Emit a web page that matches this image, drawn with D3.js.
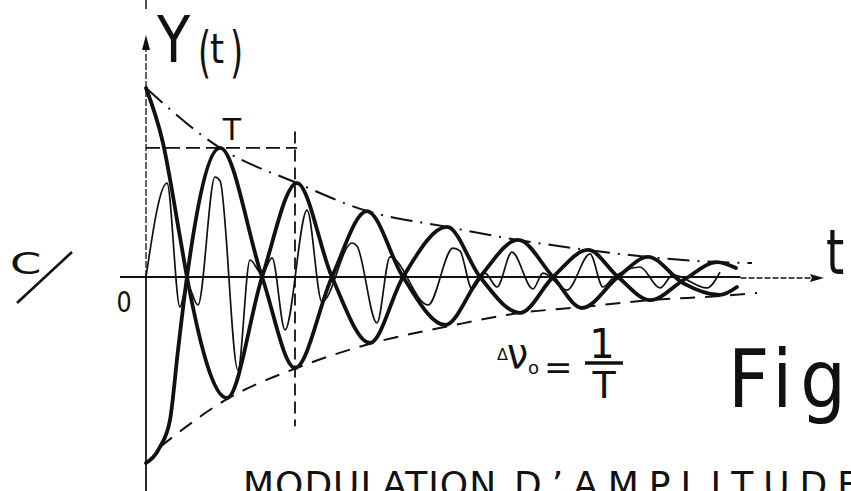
<!DOCTYPE html>
<html>
<head>
<meta charset="utf-8">
<script src="https://d3js.org/d3.v7.min.js"></script>
<style>
  html, body { margin: 0; padding: 0; background: #fff; }
  svg { display: block; }
  text { font-family: "DejaVu Sans", sans-serif; fill: #111; }
</style>
</head>
<body>
<div id="chart"></div>
<script>
// Time in units of the period T, amplitude relative to the initial value.
// Thick curve starting at the top of the envelope.
const thickUpper = [
  [0, 1.00], [0.114, 0.709], [0.228, 0.212], [0.275, 0], [0.544, -0.640],
  [0.779, 0], [1.013, 0.497], [1.248, 0], [1.503, -0.349], [1.725, 0],
  [2.020, 0.265], [2.242, 0], [2.510, -0.190], [2.732, 0], [2.966, 0.143],
  [3.168, 0], [3.383, -0.122], [3.617, -0.011], [3.832, 0.079], [3.960, 0.048]
];
// Thick curve starting at the bottom of the envelope.
const thickLower = [
  [0, -0.984], [0.094, -0.899], [0.161, -0.757], [0.215, -0.386], [0.275, 0],
  [0.497, 0.683], [0.779, 0], [1.0, -0.481], [1.248, 0], [1.483, 0.349],
  [1.725, 0], [2.007, -0.254], [2.242, 0], [2.497, 0.196], [2.732, 0],
  [2.926, -0.164], [3.168, 0], [3.369, 0.106], [3.604, -0.032],
  [3.852, -0.095], [3.966, -0.053]
];
// Thin modulated carrier oscillating between the two thick curves.
const carrier = [
  [0, 0], [0.141, 0.497], [0.228, -0.159], [0.275, -0.037], [0.349, -0.148],
  [0.463, 0.529], [0.497, 0.508], [0.617, -0.492], [0.698, 0.090],
  [0.779, 0.016], [0.846, 0.101], [0.933, -0.280], [1.081, 0.354],
  [1.181, -0.132], [1.383, 0.180], [1.416, 0.164], [1.550, -0.243],
  [1.638, 0.106], [1.893, -0.148], [2.060, 0.153], [2.107, 0.138],
  [2.188, -0.063], [2.275, 0.021], [2.356, -0.053], [2.456, 0.132],
  [2.597, -0.063], [2.664, 0.021], [2.826, -0.069], [2.980, 0.122],
  [3.067, -0.053], [3.134, -0.005], [3.315, 0.053], [3.450, -0.058],
  [3.537, 0.011], [3.765, -0.058], [3.852, 0.026]
];
// Decaying envelopes.
const envelopeTop = [
  [0, 1.0], [0.497, 0.683], [1.013, 0.497], [1.483, 0.349], [2.020, 0.265],
  [2.497, 0.196], [2.966, 0.143], [3.369, 0.106], [3.832, 0.079], [4.067, 0.074]
];
const envelopeBottom = [
  [0.094, -0.899], [0.544, -0.646], [1.013, -0.481], [1.523, -0.349],
  [2.040, -0.259], [2.510, -0.190], [2.926, -0.159], [3.383, -0.122],
  [3.852, -0.101], [4.101, -0.085]
];
// Period marker: from t = 0 to t = T at the level of the first crest.
const periodT = 1;
const periodLevel = 0.683;
const periodVertical = [0.77, -0.79];
// Axis extents.
const tAxis = [-0.174, 4.55];
const yAxis = [-1.14, 1.28];

const W = 851, H = 491;
const svg = d3.select("#chart").append("svg")
  .attr("width", W).attr("height", H)
  .attr("viewBox", `0 0 ${W} ${H}`);

const x = d3.scaleLinear().domain([0, 1]).range([146, 295]);
const y = d3.scaleLinear().domain([-1, 1]).range([466, 88]);

const ink = "#111";
const line = d3.line().x(d => x(d[0])).y(d => y(d[1])).curve(d3.curveMonotoneX);

// Axes
const g = svg.append("g");
// horizontal axis
g.append("line")
  .attr("x1", x(tAxis[0])).attr("x2", x(3.99))
  .attr("y1", y(0)).attr("y2", y(0))
  .attr("stroke", ink).attr("stroke-width", 1.8);
g.append("line")
  .attr("x1", x(3.99)).attr("x2", x(tAxis[1]) - 8)
  .attr("y1", y(0) + 1).attr("y2", y(0) + 1)
  .attr("stroke", ink).attr("stroke-width", 1.4).attr("stroke-dasharray", "6 2");
g.append("path")
  .attr("d", `M${x(tAxis[1])},${y(0) + 1} l-14,-4 l2,4 l-2,4 z`)
  .attr("fill", ink);
// vertical axis
g.append("line")
  .attr("x1", x(0)).attr("x2", x(0))
  .attr("y1", y(yAxis[0])).attr("y2", y(0))
  .attr("stroke", ink).attr("stroke-width", 1.8);
g.append("line")
  .attr("x1", x(0)).attr("x2", x(0))
  .attr("y1", y(0)).attr("y2", y(yAxis[1]) + 12)
  .attr("stroke", ink).attr("stroke-width", 1.3).attr("stroke-dasharray", "7 2");
g.append("path")
  .attr("d", `M${x(0)},${y(yAxis[1])} l-4,15 l8,0 z`)
  .attr("fill", ink);
g.append("line")
  .attr("x1", x(0)).attr("x2", x(0)).attr("y1", 0).attr("y2", 9)
  .attr("stroke", ink).attr("stroke-width", 1.5);

// Period marker lines
g.append("line")
  .attr("x1", x(0)).attr("x2", x(periodT) + 2)
  .attr("y1", y(periodLevel)).attr("y2", y(periodLevel))
  .attr("stroke", ink).attr("stroke-width", 1.8).attr("stroke-dasharray", "14 6");
g.append("line")
  .attr("x1", x(periodT)).attr("x2", x(periodT))
  .attr("y1", y(periodVertical[0])).attr("y2", y(periodVertical[1]))
  .attr("stroke", ink).attr("stroke-width", 1.8).attr("stroke-dasharray", "12 6");

// Envelopes
svg.append("path").datum(envelopeTop)
  .attr("d", line).attr("fill", "none").attr("stroke", ink)
  .attr("stroke-width", 2).attr("stroke-dasharray", "22 8 2 8");
svg.append("path").datum(envelopeBottom)
  .attr("d", line).attr("fill", "none").attr("stroke", ink)
  .attr("stroke-width", 2).attr("stroke-dasharray", "15 10");

// Carrier and modulating curves
svg.append("path").datum(carrier)
  .attr("d", line).attr("fill", "none").attr("stroke", ink)
  .attr("stroke-width", 1.7).attr("stroke-linejoin", "round");
[thickUpper, thickLower].forEach(s => {
  svg.append("path").datum(s)
    .attr("d", line).attr("fill", "none").attr("stroke", ink)
    .attr("stroke-width", 3.8).attr("stroke-linecap", "round")
    .attr("stroke-linejoin", "round");
});

// Labels
const txt = (s, tx, ty, size, opts = {}) => {
  const t = svg.append("text").text(s)
    .attr("transform", `translate(${tx},${ty}) scale(${opts.sx || 1},1)`)
    .attr("font-size", size)
    .attr("text-anchor", opts.anchor || "start");
  if (opts.ls) t.attr("letter-spacing", opts.ls);
  return t;
};
txt("Y", 157, 62, 64, { sx: 0.85 });
txt("(", 198, 71, 56, { sx: 0.6 });
txt("t", 210, 63, 40, { sx: 0.9 });
txt(")", 230, 71, 56, { sx: 0.6 });
txt("T", 232, 140, 30, { anchor: "middle" });
txt("0", 124, 312, 28, { anchor: "middle", sx: 0.85 });
txt("t", 826, 274, 62, { sx: 0.75 });
txt("C", 10, 274, 31, { sx: 1.45 });
svg.append("line").attr("x1", 17).attr("y1", 303).attr("x2", 72).attr("y2", 252)
  .attr("stroke", ink).attr("stroke-width", 2.6);

txt("Δ", 497, 360, 16);
txt("ν", 507, 368, 42, { sx: 0.9 });
txt("o", 528, 374, 18);
txt("=", 544, 379, 34);
txt("1", 602, 358, 40, { anchor: "middle" });
svg.append("line").attr("x1", 585).attr("x2", 623).attr("y1", 363).attr("y2", 363)
  .attr("stroke", ink).attr("stroke-width", 3.5);
txt("T", 604, 398, 38, { anchor: "middle" });
txt("Fig", 728, 407, 80, { sx: 0.9, ls: 9 });
txt("MODULATION", 243, 497, 36, { ls: 1 });
txt("D’AMPLITUDE", 514, 497, 36, { ls: 10 });
</script>
</body>
</html>
